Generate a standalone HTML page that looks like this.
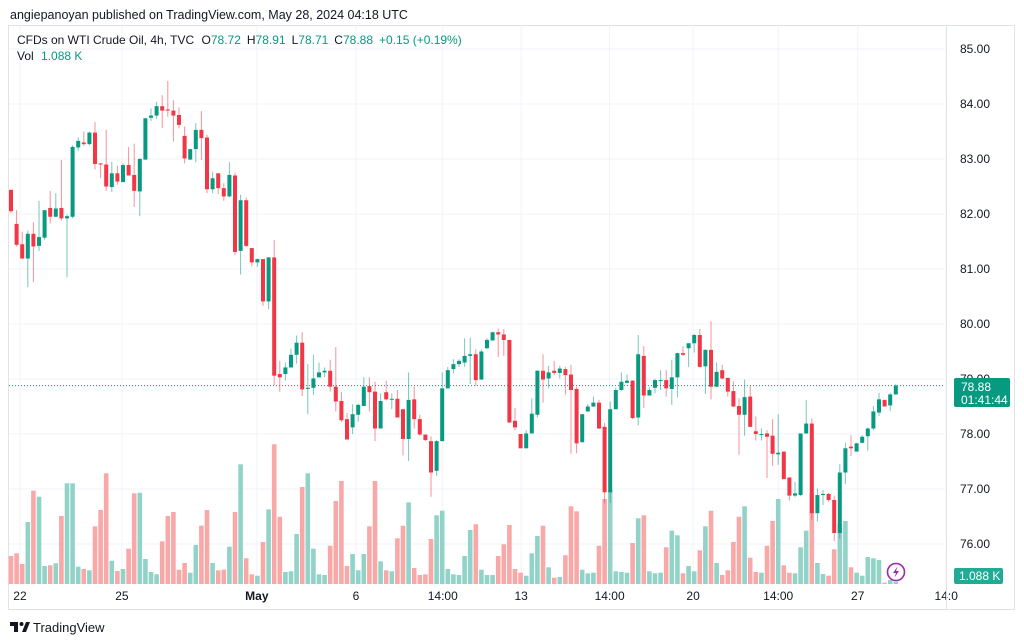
<!DOCTYPE html>
<html><head><meta charset="utf-8">
<style>
html,body{margin:0;padding:0;background:#fff;width:1024px;height:643px;overflow:hidden;font-family:"Liberation Sans",sans-serif;}
svg{position:absolute;left:0;top:0;}
</style></head>
<body>
<svg id="chart" width="1024" height="643" viewBox="0 0 1024 643">
  <text x="10" y="19" font-size="12.5" fill="#131722">angiepanoyan published on TradingView.com, May 28, 2024 04:18 UTC</text>
  <rect x="8.5" y="25.5" width="1006" height="584" fill="none" stroke="#e0e3eb"/>
  <g id="grid"></g>
  <g id="vol"></g>
  <g id="candles"></g>
  <g id="axes"></g>
  <g font-size="12">
    <text x="17" y="44" fill="#131722">CFDs on WTI Crude Oil, 4h, TVC <tspan dx="4">O</tspan><tspan fill="#089981">78.72</tspan><tspan dx="6">H</tspan><tspan fill="#089981">78.91</tspan><tspan dx="6">L</tspan><tspan fill="#089981">78.71</tspan><tspan dx="6">C</tspan><tspan fill="#089981">78.88</tspan><tspan dx="6" fill="#089981">+0.15 (+0.19%)</tspan></text>
    <text x="17" y="60" fill="#131722">Vol <tspan dx="4" fill="#089981">1.088 K</tspan></text>
  </g>
  <g>
    <rect x="954" y="378" width="56" height="29" rx="2" fill="#089981"/>
    <text x="961" y="391" font-size="12" fill="#fff">78.88</text>
    <text x="961" y="404" font-size="12" fill="#fff">01:41:44</text>
  </g>
  <g>
    <rect x="954" y="568" width="49" height="16" rx="2" fill="#22ab94"/>
    <text x="959" y="580" font-size="12" fill="#fff">1.088 K</text>
  </g>
  <g>
    <circle cx="896" cy="572" r="8.5" fill="#fff" stroke="#9c27b0" stroke-width="1.6"/>
    <path d="M897.5 566.5 L893 573 L896 573 L894.5 577.5 L899 571 L896 571 Z" fill="#9c27b0"/>
  </g>
  <g>
    <path d="M10 622 h8 v10 h-4 v-6 h-4 Z" fill="#131722"/>
    <circle cx="21.5" cy="624" r="2" fill="#131722"/>
    <path d="M22 632 l4 -10 h4 l-4 10 Z" fill="#131722"/>
    <text x="33" y="632" font-size="13" fill="#131722">TradingView</text>
  </g>
</svg>
<script>
const opens=[82.44,81.82,81.45,81.19,81.64,81.42,81.57,82.11,81.95,82.11,81.92,81.95,83.21,83.30,83.27,83.48,82.92,82.90,82.49,82.74,82.58,82.89,82.71,82.41,82.99,83.75,83.79,83.96,83.90,83.88,83.80,83.42,82.99,83.18,83.53,83.39,82.45,82.74,82.47,82.32,82.70,81.33,82.25,81.38,81.12,81.18,80.41,81.21,79.09,79.09,79.21,79.44,79.66,78.82,78.84,79.03,79.12,79.15,78.86,78.60,78.27,78.12,78.35,78.51,78.87,78.77,78.10,78.76,78.63,78.64,78.45,77.91,78.63,78.27,77.99,77.87,77.33,77.87,78.83,79.18,79.27,79.30,79.42,79.45,78.99,79.56,79.70,79.85,79.81,79.71,78.24,78.00,77.74,78.01,78.35,79.15,79.01,79.15,79.11,79.18,79.08,78.82,77.85,78.41,78.50,78.57,78.13,76.94,78.45,78.80,78.93,78.97,78.30,79.42,78.70,78.84,78.97,78.98,78.82,79.03,79.47,79.56,79.65,79.80,79.23,79.53,78.86,79.16,79.02,78.78,78.51,78.35,78.68,78.05,77.99,78.01,77.97,77.63,77.68,77.21,76.88,76.89,78.01,78.19,76.56,76.89,76.91,76.80,76.20,77.30,77.77,77.68,77.84,77.96,78.10,78.39,78.62,78.52,78.72];
const highs=[82.44,82.07,81.68,81.70,81.85,82.24,82.07,82.42,82.38,82.98,81.99,83.25,83.39,83.50,83.50,83.67,82.92,83.53,82.95,82.88,82.92,83.22,83.28,83.02,83.75,83.92,84.04,84.16,84.42,84.07,83.94,83.59,83.18,83.65,83.87,83.44,82.77,82.74,82.56,82.94,82.75,82.35,82.30,81.38,81.19,81.18,81.22,81.53,79.33,79.30,79.55,79.79,79.85,79.27,79.44,79.30,79.21,79.35,79.58,78.76,78.38,78.54,78.55,79.03,79.03,78.95,78.74,78.97,78.74,78.80,78.45,79.12,78.86,78.35,77.99,77.96,77.89,79.12,79.22,79.36,79.36,79.74,79.75,79.54,79.54,79.74,79.86,79.92,79.91,79.71,78.47,78.00,78.07,78.65,79.16,79.45,79.24,79.33,79.24,79.22,79.26,78.86,78.36,78.54,78.68,78.62,78.20,78.59,78.84,79.12,79.08,78.98,79.80,79.60,78.85,79.01,79.16,79.16,79.35,79.48,79.60,79.65,79.82,79.91,79.54,80.05,79.30,79.26,79.02,78.96,78.65,78.99,78.88,78.32,78.10,78.07,78.27,78.36,77.68,77.21,77.13,78.01,78.62,78.28,77.01,76.98,76.93,76.88,77.45,77.84,77.98,77.84,77.98,78.12,78.51,78.75,78.62,78.75,78.91];
const lows=[82.01,81.41,81.19,80.67,80.76,81.33,81.53,81.83,81.95,81.88,80.85,81.92,83.15,83.24,83.25,82.81,82.65,82.42,82.40,82.53,82.58,82.70,82.13,81.96,82.98,83.69,83.73,83.56,83.77,83.32,83.56,82.92,82.98,82.94,82.98,82.38,82.38,82.36,82.24,82.30,81.25,80.90,81.40,81.05,81.04,80.33,80.27,78.89,78.77,78.97,79.21,79.28,78.69,78.36,78.71,79.03,79.03,78.77,78.41,78.22,77.90,78.00,78.22,78.51,78.41,77.87,78.10,78.61,78.45,78.30,77.61,77.51,78.10,77.97,77.87,76.86,77.24,77.87,78.83,79.10,79.22,79.22,78.91,78.87,78.98,79.54,79.70,79.40,79.42,78.20,78.07,77.74,77.74,78.01,78.30,78.57,78.83,79.07,79.01,78.71,77.64,77.65,77.85,78.41,78.49,78.09,76.74,76.75,78.45,78.79,78.92,78.27,78.16,78.47,78.70,78.74,78.80,78.68,78.53,78.67,79.42,79.22,79.48,79.21,78.73,78.63,78.86,78.99,78.68,78.49,77.62,77.97,78.13,77.88,77.88,77.20,77.42,77.44,77.18,76.79,76.85,76.87,78.00,76.44,76.41,76.71,76.77,76.05,76.10,77.09,77.60,77.68,77.83,77.70,78.07,78.33,78.50,78.42,78.71];
const closes=[82.05,81.44,81.19,81.64,81.41,81.58,82.07,81.95,82.10,81.92,81.96,83.22,83.33,83.27,83.48,82.91,82.90,82.50,82.74,82.59,82.89,82.70,82.42,83.00,83.74,83.79,83.96,83.88,83.88,83.79,83.62,83.01,83.18,83.53,83.38,82.45,82.65,82.47,82.32,82.71,81.31,82.25,81.42,81.12,81.18,80.41,81.21,79.06,79.03,79.21,79.44,79.66,78.81,78.84,79.01,79.12,79.15,78.86,78.59,78.25,77.90,78.36,78.53,78.86,78.76,78.10,78.60,78.63,78.64,78.30,77.91,78.62,78.27,77.99,77.89,77.30,77.87,78.83,79.16,79.27,79.33,79.42,79.45,78.98,79.50,79.71,79.85,79.81,79.71,78.21,78.12,77.74,78.01,78.37,79.15,78.99,79.12,79.11,79.19,79.07,78.80,77.83,78.36,78.50,78.57,78.10,76.94,78.45,78.80,78.95,78.97,78.29,79.45,78.70,78.80,78.98,78.98,78.83,79.03,79.47,79.44,79.65,79.80,79.22,79.53,78.86,79.13,79.01,78.77,78.50,78.35,78.67,78.13,78.00,78.00,77.95,77.64,77.66,77.18,76.88,76.92,78.01,78.19,76.56,76.89,76.91,76.80,76.20,77.30,77.74,77.74,77.83,77.95,78.10,78.41,78.63,78.50,78.72,78.88];
const volumes=[2.8,3.07,2.0,6.2,9.33,8.73,1.8,1.87,2.07,6.8,10.07,10.07,1.73,1.5,1.37,5.77,7.4,11.07,2.33,1.3,1.5,3.53,9.07,9.13,2.5,1.2,0.97,4.27,6.8,7.2,1.43,2.1,1.13,3.9,5.83,7.4,2.1,1.37,1.43,3.73,7.2,11.97,2.57,0.97,0.83,4.2,7.47,13.97,6.73,1.2,1.27,5.0,9.7,11.07,3.53,0.97,0.9,3.83,8.3,10.3,1.8,3.0,1.37,3.0,5.77,10.3,2.27,1.37,1.27,4.57,5.83,8.17,1.6,0.9,0.97,4.5,6.87,7.33,1.5,0.97,0.9,2.8,5.4,5.97,1.43,0.9,0.9,2.8,3.97,5.9,1.5,1.13,0.83,3.07,4.8,5.83,1.67,0.63,0.7,2.87,7.77,7.27,1.43,1.07,1.13,3.83,8.5,9.4,1.27,1.2,1.13,4.1,6.57,6.87,1.27,1.07,1.13,3.67,5.33,4.87,1.07,1.8,1.27,3.37,5.77,7.33,2.1,0.9,1.37,4.2,6.73,7.77,2.63,1.2,1.13,3.83,6.3,8.5,1.87,1.13,1.07,3.67,5.33,9.07,2.1,1.0,0.83,3.47,6.0,6.3,1.67,1.13,0.83,2.7,2.57,2.4,0.13,0.4,0.23];
const priceTicks=[85,84,83,82,81,80,79,78,77,76];
const timeLabels=["22","25","May","6","14:00","13","14:00","20","14:00","27","14:0"];
const timeLabelIndex=[1.6,19.8,43.9,61.6,77.1,91.1,106.9,121.8,137,151.2,167];
const lastPrice=78.88;

const NS="http://www.w3.org/2000/svg";
const PLOT_L=9,PLOT_R=945,PLOT_T=26,PLOT_B=585;
const yP=p=>49+(85-p)*55;
const xI=i=>11+i*5.6;
const yV=v=>584-v*10;
function mk(tag,attrs,parent){const e=document.createElementNS(NS,tag);for(const k in attrs)e.setAttribute(k,attrs[k]);parent.appendChild(e);return e;}
const grid=document.getElementById('grid'),vol=document.getElementById('vol'),cg=document.getElementById('candles'),axes=document.getElementById('axes');

priceTicks.forEach(p=>{
  const l=mk('line',{x1:PLOT_L,x2:PLOT_R,y1:yP(p),y2:yP(p),stroke:'#f0f3fa','stroke-width':1},grid);
  
  
  const t=mk('text',{x:960,y:yP(p)+4,'font-size':12,fill:'#131722'},axes);
  t.textContent=p.toFixed(2);
  
  
});
timeLabels.forEach((s,k)=>{
  const x=xI(timeLabelIndex[k]);
  const l=mk('line',{x1:x,x2:x,y1:PLOT_T,y2:PLOT_B,stroke:'#f0f3fa','stroke-width':1},grid);
  
  
  const t=mk('text',{x:x,y:600,'font-size':12,fill:'#131722','text-anchor':'middle','font-weight':s==='May'?'bold':'normal'},axes);
  t.textContent=s;
  
  
});
const sep=mk('line',{x1:946.5,x2:946.5,y1:26,y2:609,stroke:'#e0e3eb'},axes);



volumes.forEach((v,i)=>{
  const up=closes[i]>=opens[i];
  const r=mk('rect',{x:xI(i)-2.3,y:yV(v),width:4.6,height:584-yV(v),fill:up?'#92d3c9':'#f8a9a7'},vol);
  
  
});

opens.forEach((o,i)=>{
  const c=closes[i],up=c>=o,col=up?'#089981':'#f23645',x=xI(i);
  const w=mk('line',{x1:x,x2:x,y1:yP(highs[i]),y2:yP(lows[i]),stroke:col,'stroke-width':1,'stroke-opacity':0.55},cg);
  
  
  const top=yP(Math.max(o,c)),bh=Math.max(1,Math.abs(yP(o)-yP(c)));
  const b=mk('rect',{x:x-2,y:top,width:4,height:bh,fill:col},cg);
  
  
});

const pl=mk('line',{x1:PLOT_L,x2:PLOT_R,y1:yP(lastPrice),y2:yP(lastPrice),stroke:'#089981','stroke-width':1,'stroke-dasharray':'1 2'},axes);


</script>
</body></html>
